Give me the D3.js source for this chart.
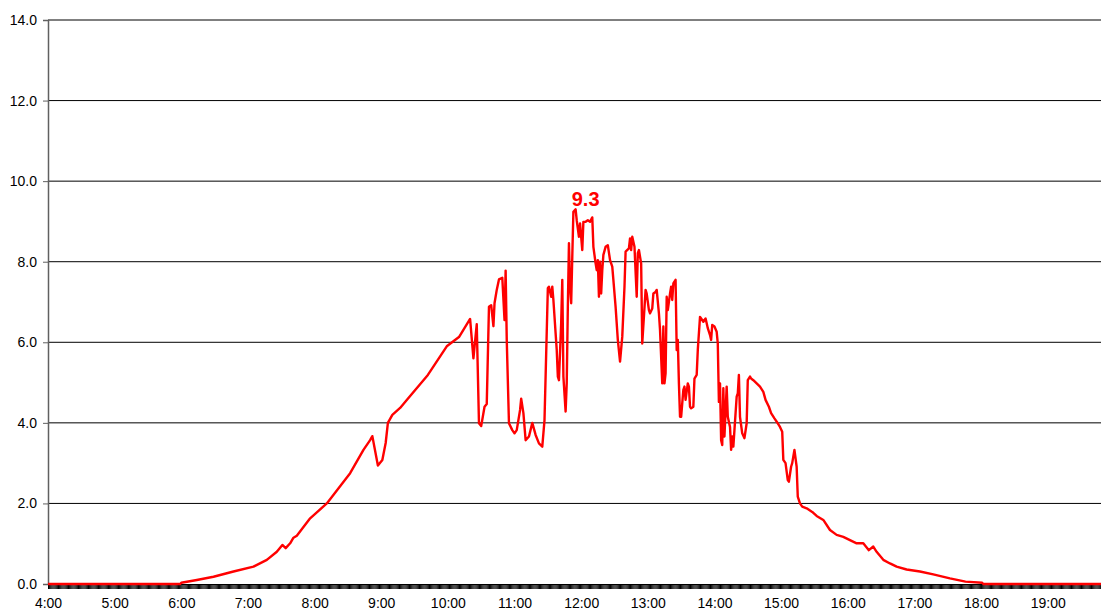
<!DOCTYPE html>
<html>
<head>
<meta charset="utf-8">
<script src="https://cdn.jsdelivr.net/npm/d3@7"></script>
<style>
  body { margin: 0; background: #fff; }
  svg { display: block; font-family: "Liberation Sans", Arial, sans-serif; }
</style>
</head>
<body>
<svg width="1101" height="614"></svg>
<script>
(function (d3) {
  'use strict';

  // readings (kW) by clock time
  const times = [
    '4:00', '5:59', '6:00', '6:14', '6:29', '6:47', '7:05', '7:17', '7:26', '7:31',
    '7:34', '7:38', '7:41', '7:44', '7:56', '8:11', '8:32', '8:44', '8:50', '8:52',
    '8:57', '9:01', '9:04', '9:06', '9:10', '9:17', '9:23', '9:42', '9:59', '10:10',
    '10:20', '10:23', '10:26', '10:28', '10:30', '10:33', '10:35', '10:37', '10:39', '10:41',
    '10:42', '10:44', '10:46', '10:49', '10:51', '10:52', '10:53', '10:55', '10:58', '11:00',
    '11:02', '11:05', '11:06', '11:08', '11:10', '11:13', '11:16', '11:19', '11:22', '11:25',
    '11:27', '11:30', '11:31', '11:33', '11:34', '11:35', '11:37', '11:38', '11:39', '11:40',
    '11:42', '11:43', '11:44', '11:46', '11:47', '11:48', '11:49', '11:50', '11:51', '11:52',
    '11:53', '11:55', '11:56', '11:58', '11:59', '12:01', '12:02', '12:04', '12:06', '12:08',
    '12:10', '12:11', '12:13', '12:14', '12:15', '12:16', '12:17', '12:18', '12:19', '12:20',
    '12:22', '12:24', '12:26', '12:28', '12:29', '12:31', '12:33', '12:35', '12:37', '12:39',
    '12:40', '12:43', '12:44', '12:45', '12:46', '12:48', '12:50', '12:51', '12:52', '12:54',
    '12:55', '12:58', '12:59', '13:01', '13:02', '13:04', '13:05', '13:07', '13:08', '13:10',
    '13:11', '13:13', '13:14', '13:15', '13:16', '13:17', '13:18', '13:20', '13:21', '13:22',
    '13:23', '13:25', '13:26', '13:27', '13:28', '13:29', '13:30', '13:32', '13:33', '13:34',
    '13:36', '13:37', '13:38', '13:39', '13:41', '13:42', '13:44', '13:45', '13:47', '13:48',
    '13:50', '13:52', '13:53', '13:54', '13:56', '13:57', '13:58', '14:00', '14:02', '14:03',
    '14:04', '14:05', '14:06', '14:07', '14:08', '14:09', '14:11', '14:12', '14:14', '14:15',
    '14:16', '14:17', '14:18', '14:20', '14:21', '14:22', '14:23', '14:25', '14:27', '14:29',
    '14:30', '14:32', '14:33', '14:35', '14:38', '14:41', '14:44', '14:46', '14:49', '14:51',
    '14:54', '14:57', '14:59', '15:01', '15:02', '15:04', '15:06', '15:07', '15:09', '15:10',
    '15:12', '15:14', '15:15', '15:17', '15:19', '15:23', '15:28', '15:32', '15:38', '15:44',
    '15:50', '15:56', '16:02', '16:08', '16:14', '16:19', '16:23', '16:26', '16:32', '16:38',
    '16:44', '16:53', '17:05', '17:17', '17:32', '17:46', '18:01', '18:02', '19:48'
  ];

  const values = [
    0, 0, 0.03, 0.1, 0.18, 0.31, 0.43, 0.6, 0.8, 0.97,
    0.89, 1.01, 1.15, 1.2, 1.63, 2.0, 2.75, 3.33, 3.57, 3.67,
    2.94, 3.08, 3.5, 4.0, 4.2, 4.37, 4.57, 5.19, 5.9, 6.13,
    6.58, 5.6, 6.45, 3.99, 3.92, 4.4, 4.47, 6.88, 6.92, 6.4,
    6.97, 7.3, 7.56, 7.6, 6.55, 7.78, 6.06, 3.99, 3.82, 3.74,
    3.82, 4.32, 4.6, 4.24, 3.57, 3.66, 4.0, 3.7, 3.49, 3.41,
    4.07, 7.34, 7.38, 7.13, 7.38, 7.05, 6.22, 5.81, 5.15, 5.06,
    6.47, 7.55, 5.15, 4.28, 4.98, 6.88, 8.46, 7.38, 6.97, 8.12,
    9.24, 9.3, 9.03, 8.62, 8.95, 8.29, 8.99, 8.99, 9.03, 8.99,
    9.1, 8.37, 7.96, 7.79, 8.04, 7.13, 8.0, 7.21, 7.79, 8.17,
    8.37, 8.41, 8.04, 7.88, 7.55, 6.88, 6.06, 5.52, 6.14, 7.38,
    8.25, 8.33, 8.58, 8.29, 8.62, 8.37, 7.13, 8.21, 8.29, 7.96,
    5.97, 7.3, 7.21, 6.8, 6.72, 6.84, 7.21, 7.25, 7.3, 6.72,
    6.3, 4.98, 6.39, 4.98, 5.23, 7.13, 6.8, 7.21, 7.38, 7.05,
    7.46, 7.55, 5.81, 6.06, 4.98, 4.15, 4.15, 4.82, 4.9, 4.57,
    4.98, 4.9, 4.4, 4.36, 4.4, 5.1, 5.19, 5.81, 6.63, 6.59,
    6.51, 6.59, 6.47, 6.35, 6.18, 6.06, 6.43, 6.39, 6.26, 5.97,
    4.52, 4.98, 3.57, 3.45, 4.86, 3.66, 4.9, 4.15, 3.9, 3.33,
    3.66, 3.41, 3.82, 4.65, 4.73, 5.19, 4.15, 3.74, 3.62, 3.99,
    5.06, 5.15, 5.1, 5.06, 4.98, 4.9, 4.77, 4.57, 4.4, 4.24,
    4.11, 3.99, 3.9, 3.78, 3.08, 3.0, 2.58, 2.54, 2.91, 3.0,
    3.33, 2.91, 2.17, 2.0, 1.92, 1.88, 1.79, 1.69, 1.59, 1.34,
    1.22, 1.17, 1.09, 1.01, 1.01, 0.84, 0.93, 0.8, 0.6, 0.51,
    0.43, 0.36, 0.31, 0.24, 0.14, 0.06, 0.03, 0, 0
  ];

  const yTicks = [0, 2, 4, 6, 8, 10, 12, 14];
  const hourLabels = ['4:00', '5:00', '6:00', '7:00', '8:00', '9:00', '10:00', '11:00',
                      '12:00', '13:00', '14:00', '15:00', '16:00', '17:00', '18:00', '19:00'];

  const parseTime = d3.timeParse('%H:%M');
  const data = times.map((t, i) => ({ time: parseTime(t), value: values[i] }));

  const svg = d3.select('svg');
  const left = 48, right = 1101, top = 20, bottom = 584;

  const xScale = d3.scaleTime()
    .domain([parseTime('4:00'), parseTime('19:48')])
    .range([left, right]);

  const yScale = d3.scaleLinear()
    .domain([0, 14])
    .range([bottom, top]);

  // horizontal gridlines
  svg.append('g')
    .selectAll('line').data(yTicks.filter(d => d > 0))
    .enter().append('line')
      .attr('x1', left)
      .attr('x2', right)
      .attr('y1', yScale)
      .attr('y2', yScale)
      .attr('stroke', '#000')
      .attr('stroke-width', 1);

  // y axis
  const yAxisG = svg.append('g')
    .attr('transform', `translate(${left},0)`)
    .call(d3.axisLeft(yScale)
      .tickValues(yTicks)
      .tickSize(5)
      .tickPadding(6)
      .tickFormat(d3.format('.1f')));
  yAxisG.select('.domain').attr('stroke', '#606060').attr('stroke-width', 1.5);
  yAxisG.selectAll('.tick line').attr('stroke', '#606060');
  yAxisG.selectAll('text')
    .attr('font-size', 14)
    .attr('font-family', '"Liberation Sans", Arial, sans-serif')
    .attr('fill', '#000');

  // x axis: a tick every minute, labels on the hour
  const hourFormat = d3.timeFormat('%-H:%M');
  const xAxisG = svg.append('g')
    .attr('transform', `translate(0,${bottom})`)
    .call(d3.axisBottom(xScale)
      .tickValues(d3.timeMinute.range(parseTime('4:00'), parseTime('19:48')))
      .tickSize(5)
      .tickFormat(d => d.getMinutes() === 0 && hourLabels.includes(hourFormat(d)) ? hourFormat(d) : ''));
  xAxisG.select('.domain').attr('stroke', '#000');
  xAxisG.selectAll('.tick line').attr('stroke', '#000').attr('stroke-width', 1);
  xAxisG.selectAll('text')
    .attr('y', 14)
    .attr('font-size', 14)
    .attr('font-family', '"Liberation Sans", Arial, sans-serif')
    .attr('fill', '#000');

  // power curve
  const lineGenerator = d3.line()
    .x(d => xScale(d.time))
    .y(d => yScale(d.value));

  svg.append('path')
    .datum(data)
    .attr('d', lineGenerator)
    .attr('fill', 'none')
    .attr('stroke', '#ff0000')
    .attr('stroke-width', 2.4)
    .attr('stroke-linejoin', 'round');

  // label the peak
  const peak = data.reduce((a, b) => (b.value > a.value ? b : a));
  svg.append('text')
    .attr('x', xScale(peak.time) + 10)
    .attr('y', yScale(peak.value) - 3)
    .attr('text-anchor', 'middle')
    .attr('font-size', 20)
    .attr('font-weight', 'bold')
    .attr('fill', '#ff0000')
    .text(d3.format('.1f')(peak.value));

}(d3));
</script>
</body>
</html>
